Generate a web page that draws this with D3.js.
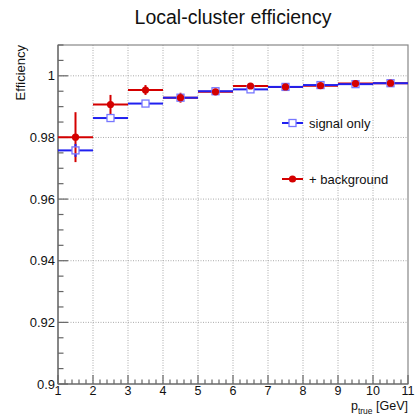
<!DOCTYPE html>
<html><head><meta charset="utf-8">
<script src="https://cdn.jsdelivr.net/npm/d3@7"></script>
<style>body{margin:0;background:#fff}svg{display:block;font-family:"Liberation Sans",Arial,sans-serif}</style>
</head><body><svg id="c" width="418" height="418"></svg>
<script>
const binLow = [1,2,3,4,5,6,7,8,9,10];
const binHigh = [2,3,4,5,6,7,8,9,10,11];
const signalEff = [0.9758,0.9863,0.9910,0.9929,0.9950,0.9956,0.9964,0.9970,0.9973,0.9976];
const signalErr = [0.0021,0.0006,0.0004,0.0004,0.0003,0.0003,0.0002,0.0002,0.0002,0.0002];
const bgEff = [0.9801,0.9907,0.9954,0.9929,0.9948,0.9967,0.9964,0.9968,0.9975,0.9976];
const bgErr = [0.0081,0.0031,0.0016,0.0016,0.0009,0.0006,0.0005,0.0005,0.0004,0.0004];
const xTicks = [1,2,3,4,5,6,7,8,9,10,11];
const yTicks = [0.9,0.92,0.94,0.96,0.98,1];
const yTickLabels = ["0.9","0.92","0.94","0.96","0.98","1"];

const L=58,R=408,T=45,B=384;
const blue="#2020f0", red="#d40000";
const svg=d3.select("#c");
const x=d3.scaleLinear().domain([1,11]).range([L,R]);
const y=d3.scaleLinear().domain([0.9,1.01]).range([B,T]);

// grid
const g=svg.append("g");
xTicks.slice(1,-1).forEach(v=>g.append("line").attr("x1",x(v)).attr("x2",x(v)).attr("y1",T).attr("y2",B)
  .attr("stroke","#aaa").attr("stroke-dasharray","1,1.5"));
yTicks.slice(1).forEach(v=>g.append("line").attr("x1",L).attr("x2",R).attr("y1",y(v)).attr("y2",y(v))
  .attr("stroke","#aaa").attr("stroke-dasharray","1,1.5"));

// frame
svg.append("rect").attr("x",L).attr("y",T).attr("width",R-L).attr("height",B-T)
  .attr("fill","none").attr("stroke","#888").attr("stroke-width",1.2);

// axes ticks
const ax=svg.append("g").attr("stroke","#666").attr("stroke-width",1.2);
d3.range(0,51).forEach(i=>{const v=1+i*0.2; const major=i%5===0;
  ax.append("line").attr("x1",x(v)).attr("x2",x(v)).attr("y1",B).attr("y2",B-(major?9:4.5));});
d3.range(0,23).forEach(i=>{const v=0.9+i*0.005; const major=i%4===0;
  ax.append("line").attr("x1",L).attr("x2",L+(major?10:5.5)).attr("y1",y(v)).attr("y2",y(v));});
ax.append("line").attr("x1",L).attr("x2",R).attr("y1",B).attr("y2",B);
ax.append("line").attr("x1",L).attr("x2",L).attr("y1",T).attr("y2",B);

// tick labels
xTicks.forEach(v=>svg.append("text").attr("x",x(v)).attr("y",395).attr("text-anchor","middle")
  .attr("font-size",12.5).attr("fill","#111").text(v));
yTicks.forEach((v,i)=>svg.append("text").attr("x",55).attr("y",y(v)+4.5).attr("text-anchor","end")
  .attr("font-size",13).attr("fill","#111").text(yTickLabels[i]));

// title and axis titles
svg.append("text").attr("x",(L+R)/2).attr("y",24).attr("text-anchor","middle").attr("font-size",19.5)
  .attr("fill","#111").text("Local-cluster efficiency");
svg.append("text").attr("transform","translate(25,45) rotate(-90)").attr("text-anchor","end")
  .attr("font-size",13).attr("fill","#111").text("Efficiency");
const xt=svg.append("text").attr("x",408).attr("y",410).attr("text-anchor","end").attr("font-size",12.5).attr("fill","#111");
xt.append("tspan").text("p");
xt.append("tspan").attr("font-size",8.5).attr("dy",4).text("true");
xt.append("tspan").attr("dy",-4).text(" [GeV]");

// data
const idx=d3.range(binLow.length);
const cx=i=>x((binLow[i]+binHigh[i])/2);
// red lines
const rl=svg.append("g").attr("stroke",red).attr("stroke-width",2);
idx.forEach(i=>{
  rl.append("line").attr("x1",x(binLow[i])).attr("x2",x(binHigh[i])).attr("y1",y(bgEff[i])).attr("y2",y(bgEff[i]));
  rl.append("line").attr("x1",cx(i)).attr("x2",cx(i)).attr("y1",y(bgEff[i]-bgErr[i])).attr("y2",y(bgEff[i]+bgErr[i]));
});
// blue lines
const bl=svg.append("g").attr("stroke",blue).attr("stroke-width",2);
const hs=3.5;
idx.forEach(i=>{
  const yy=y(signalEff[i]);
  bl.append("line").attr("x1",x(binLow[i])).attr("x2",cx(i)-hs).attr("y1",yy).attr("y2",yy);
  bl.append("line").attr("x1",cx(i)+hs).attr("x2",x(binHigh[i])).attr("y1",yy).attr("y2",yy);
  const y1=y(signalEff[i]+signalErr[i]), y2=y(signalEff[i]-signalErr[i]);
  if(yy-y1>hs) bl.append("line").attr("x1",cx(i)).attr("x2",cx(i)).attr("y1",y1).attr("y2",yy-hs);
  if(y2-yy>hs) bl.append("line").attr("x1",cx(i)).attr("x2",cx(i)).attr("y1",yy+hs).attr("y2",y2);
});
idx.forEach(i=>svg.append("rect").attr("x",cx(i)-hs).attr("y",y(signalEff[i])-hs).attr("width",2*hs).attr("height",2*hs)
  .attr("fill","none").attr("stroke","#7777ff").attr("stroke-width",1.3));
idx.forEach(i=>svg.append("circle").attr("cx",cx(i)).attr("cy",y(bgEff[i])).attr("r",3.6).attr("fill",red));

// legend
const lg=svg.append("g");
lg.append("line").attr("x1",282).attr("x2",303).attr("y1",123).attr("y2",123).attr("stroke",blue).attr("stroke-width",2);
lg.append("rect").attr("x",292.5-hs).attr("y",123-hs).attr("width",2*hs).attr("height",2*hs).attr("fill","#fff").attr("stroke","#7777ff").attr("stroke-width",1.3);
lg.append("text").attr("x",309).attr("y",127.5).attr("font-size",13).attr("fill","#111").text("signal only");
lg.append("line").attr("x1",282).attr("x2",303).attr("y1",179).attr("y2",179).attr("stroke",red).attr("stroke-width",2);
lg.append("circle").attr("cx",292.5).attr("cy",179).attr("r",3.6).attr("fill",red);
lg.append("text").attr("x",309).attr("y",183.5).attr("font-size",13).attr("fill","#111").text("+ background");
</script></body></html>
